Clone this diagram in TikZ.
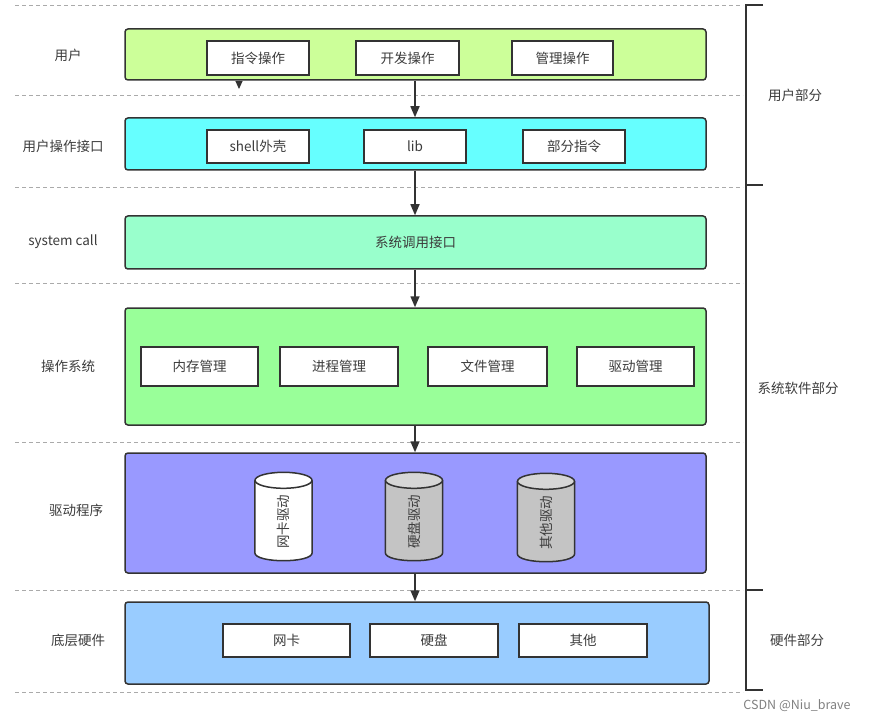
\documentclass[tikz,border=0pt]{standalone}
\usepackage{fontspec}
\setmainfont{Noto Sans CJK SC}
\usetikzlibrary{arrows.meta,calc}
\definecolor{txt}{HTML}{3C3C3C}
\definecolor{edge}{HTML}{333333}
\definecolor{dashc}{HTML}{AAAAAA}
\definecolor{cUser}{HTML}{CCFF99}
\definecolor{cIf}{HTML}{66FFFF}
\definecolor{cSys}{HTML}{99FFCC}
\definecolor{cOS}{HTML}{99FF99}
\definecolor{cDrv}{HTML}{9999FF}
\definecolor{cHw}{HTML}{99CCFF}
\definecolor{cGray}{HTML}{C4C4C4}
\definecolor{cGrayTop}{HTML}{D6D6D6}
\tikzset{
  layerbox/.style={draw=edge, line width=1.5pt, rounded corners=3pt},
  itembox/.style={draw=edge, fill=white, line width=1.5pt, text=txt, font=\fontsize{13.5pt}{15pt}\selectfont, inner sep=0pt},
  lab/.style={text=txt, font=\fontsize{13.5pt}{15pt}\selectfont},
  sep/.style={draw=dashc, line width=0.9pt, dash pattern=on 4pt off 3pt},
  flow/.style={draw=edge, line width=1.5pt, -{Triangle[width=9pt,length=11pt]}},
  brk/.style={draw=edge, line width=2pt},
  drumspot/.style={minimum width=57pt, minimum height=88pt, inner sep=0pt},
}
% cylinder drawn around a named node: #1 node name, #2 body fill, #3 top fill
\newcommand\mydrum[3]{%
  \filldraw[fill=#2, draw=edge, line width=1.5pt]
    ($(#1.north west)+(0,8)$) -- ($(#1.south west)+(0,-8)$)
    .. controls ($(#1.south west)+(0,2.7)$) and ($(#1.south east)+(0,2.7)$) .. ($(#1.south east)+(0,-8)$)
    -- ($(#1.north east)+(0,8)$);
  \filldraw[fill=#3, draw=edge, line width=1.5pt] ($(#1.north)+(0,8)$) ellipse [x radius=28.5, y radius=8];
}
\begin{document}
\begin{tikzpicture}[x=1pt,y=-1pt]
\useasboundingbox (0,0) rectangle (873,722);
% separators
\foreach \yy in {5,95,187,283,442,590,692}
  \draw[sep] (15,\yy) -- (743,\yy);
% layers
\node[layerbox, fill=cUser, minimum width=581pt, minimum height=51pt] (user) at (415.5,54.5) {};
\node[layerbox, fill=cIf, minimum width=581pt, minimum height=52pt] (ifc) at (415.5,144) {};
\node[layerbox, fill=cSys, minimum width=581pt, minimum height=53pt, lab] (sys) at (415.5,242.5) {系统调用接口};
\node[layerbox, fill=cOS, minimum width=581pt, minimum height=117pt] (os) at (415.5,366.5) {};
\node[layerbox, fill=cDrv, minimum width=581pt, minimum height=120pt] (drv) at (415.5,513) {};
\node[layerbox, fill=cHw, minimum width=584pt, minimum height=82pt] (hw) at (417,643) {};
% user items
\node[itembox, minimum width=102pt, minimum height=34pt] (u1) at (258,58) {指令操作};
\node[itembox, minimum width=103pt, minimum height=34pt] (u2) at (407.5,58) {开发操作};
\node[itembox, minimum width=101pt, minimum height=34pt] (u3) at (562.5,58) {管理操作};
% interface items
\node[itembox, minimum width=102pt, minimum height=33pt] (i1) at (258,146.5) {shell外壳};
\node[itembox, minimum width=102pt, minimum height=33pt] (i2) at (415,146.5) {lib};
\node[itembox, minimum width=102pt, minimum height=33pt] (i3) at (574,146.5) {部分指令};
% os items
\node[itembox, minimum width=117pt, minimum height=39pt] (o1) at (199.5,366.5) {内存管理};
\node[itembox, minimum width=118pt, minimum height=39pt] (o2) at (339,366.5) {进程管理};
\node[itembox, minimum width=119pt, minimum height=39pt] (o3) at (487.5,366.5) {文件管理};
\node[itembox, minimum width=117pt, minimum height=39pt] (o4) at (635.5,366.5) {驱动管理};
% drivers
\node[drumspot] (d1) at (283.5,516.5) {};
\node[drumspot] (d2) at (414,516.5) {};
\node[drumspot] (d3) at (546,517.5) {};
\mydrum{d1}{white}{white}
\mydrum{d2}{cGray}{cGrayTop}
\mydrum{d3}{cGray}{cGrayTop}
\node[lab, rotate=90] (t1) at ($(d1)+(0,5)$) {网卡驱动};
\node[lab, rotate=90] (t2) at ($(d2)+(0,5)$) {硬盘驱动};
\node[lab, rotate=90] (t3) at ($(d3)+(0,5)$) {其他驱动};
% hardware items
\node[itembox, minimum width=127pt, minimum height=33pt] (h1) at (286.5,640.5) {网卡};
\node[itembox, minimum width=128pt, minimum height=33pt] (h2) at (434,640.5) {硬盘};
\node[itembox, minimum width=128pt, minimum height=33pt] (h3) at (583,640.5) {其他};
% left labels
\node[lab] (l1) at (68,55) {用户};
\node[lab] (l2) at (63,146) {用户操作接口};
\node[lab] (l3) at (63,242) {system call};
\node[lab] (l4) at (68,366) {操作系统};
\node[lab] (l5) at (76,510) {驱动程序};
\node[lab] (l6) at (78,640) {底层硬件};
% arrows
\draw[flow] (user.south -| 415,0) -- (ifc.north -| 415,0);
\draw[flow] (ifc.south -| 415,0) -- (sys.north -| 415,0);
\draw[flow] (sys.south -| 415,0) -- (os.north -| 415,0);
\draw[flow] (os.south -| 415,0) -- (drv.north -| 415,0);
\draw[flow] (drv.south -| 415,0) -- (hw.north -| 415,0);
\coordinate (stub) at (239,89);
\draw[draw=edge, line width=1pt, -{Triangle[width=7pt,length=8pt]}] (user.south -| stub) -- (stub);
% bracket
\coordinate (b0) at (746,5);
\coordinate (b1) at (746,185);
\coordinate (b2) at (746,590);
\coordinate (b3) at (746,690);
\draw[brk] (763,5) -- (b0) -- (b3) -- (763,690);
\draw[brk] (b1) -- (763,185);
\draw[brk] (b2) -- (763,590);
\node[lab] (r1) at (795,95) {用户部分};
\node[lab] (r2) at (798,388) {系统软件部分};
\node[lab] (r3) at (797,640) {硬件部分};
\node[text=gray, font=\fontsize{12.5pt}{14pt}\selectfont] (wm) at (797,706) {CSDN @Niu\_brave};
\end{tikzpicture}
\end{document}
